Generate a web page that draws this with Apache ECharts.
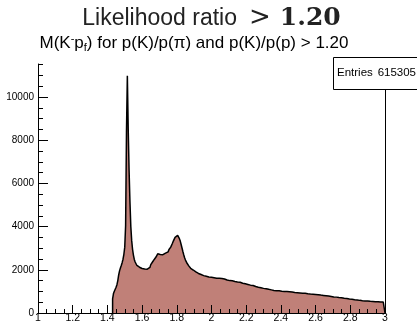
<!DOCTYPE html>
<html>
<head>
<meta charset="utf-8">
<script src="https://cdn.jsdelivr.net/npm/echarts@6/dist/echarts.min.js"></script>
<style>
html, body { margin: 0; padding: 0; background: #fff; }
#chart { width: 417px; height: 323px; }
</style>
</head>
<body>
<div id="chart"></div>
<script>
// Invariant mass histogram: fixed-width bins starting at the K-p threshold region
const binStart = 1.43;      // GeV, lower edge of first filled bin
const binWidth = 0.005;     // GeV
const counts = [
  650, 900, 1010, 1100, 1190, 1310, 1500, 1760, 1950, 2080, 2200, 2330, 2490, 2720,
  3050, 4050, 8400, 10980, 8500, 6600, 5150, 4000, 3350, 2950, 2680, 2480, 2360, 2270, 2200, 2150, 2120, 2090, 2070, 2060,
  2090, 2070, 2040, 2060, 2010, 2030, 1990, 2050, 2110, 2180, 2240, 2300, 2360, 2410, 2480, 2530, 2590, 2660, 2740, 2770,
  2710, 2680, 2640, 2700, 2730, 2760, 2770, 2790, 2800, 2830, 2880, 2940, 2990, 3050, 3120, 3230, 3330, 3420, 3500, 3570,
  3590, 3580, 3520, 3440, 3330, 3170, 3010, 2850, 2700, 2560, 2450, 2360, 2290, 2220, 2170, 2110, 2070, 2030, 1990, 1960,
  1920, 1900, 1870, 1850, 1830, 1810, 1800, 1780, 1760, 1750, 1730, 1720, 1710, 1700, 1690, 1680, 1670, 1665, 1660, 1650,
  1640, 1655, 1630, 1625, 1640, 1610, 1620, 1600, 1605, 1590, 1580, 1595, 1570, 1565, 1575, 1550, 1545, 1530, 1540, 1515,
  1500, 1510, 1485, 1490, 1470, 1475, 1460, 1450, 1465, 1440, 1430, 1420, 1425, 1400, 1395, 1380, 1385, 1360, 1350, 1340,
  1330, 1320, 1325, 1300, 1290, 1280, 1270, 1275, 1250, 1240, 1230, 1215, 1205, 1195, 1190, 1180, 1170, 1160, 1150, 1140,
  1130, 1120, 1125, 1105, 1100, 1095, 1080, 1075, 1070, 1060, 1055, 1045, 1040, 1035, 1030, 1030, 1020, 1025, 1015, 1010,
  1005, 1000, 1005, 995, 990, 985, 990, 980, 975, 980, 970, 965, 970, 955, 960, 950, 955, 945, 940, 945,
  935, 930, 935, 925, 920, 915, 910, 915, 905, 900, 895, 900, 890, 880, 885, 875, 870, 875, 865, 860,
  865, 855, 850, 845, 840, 830, 835, 820, 815, 810, 805, 800, 795, 790, 785, 775, 770, 765, 760, 750,
  745, 740, 730, 735, 725, 720, 715, 710, 700, 705, 695, 690, 685, 680, 675, 670, 660, 655, 650, 645,
  640, 635, 625, 620, 615, 610, 600, 605, 595, 590, 585, 580, 575, 570, 565, 565, 560, 555, 550, 555,
  545, 550, 540, 535, 540, 530, 525, 530, 520, 525, 515, 520, 510, 515, 505, 510, 500, 505, 495, 500
];

// Axis ranges and tick spacing
const xRange = [1, 3];
const xMajor = 0.2;
const xMinorSplit = 4;
const yMajor = 2000;
const yMinor = 500;

// Texts
const entries = 615305;
const cutValue = '1.20';

// Frame top is 5% above the tallest bin
const yMax = Math.max(...counts) * 1.05;

// Step outline of the histogram
const stepPoints = [[binStart, 0]];
counts.forEach((v, i) => {
  const lo = +(binStart + i * binWidth).toFixed(4);
  const hi = +(binStart + (i + 1) * binWidth).toFixed(4);
  stepPoints.push([lo, v], [hi, v]);
});
stepPoints.push([+(binStart + counts.length * binWidth).toFixed(4), 0]);

const black = '#000';
const labelFont = 'Liberation Sans, Arial, sans-serif';

const chart = echarts.init(document.getElementById('chart'), null, { renderer: 'canvas' });

const option = {
  animation: false,
  grid: { left: 38, right: 32, top: 64, bottom: 10, containLabel: false, outerBoundsMode: 'none' },
  xAxis: [
    {
      type: 'value', min: xRange[0], max: xRange[1], interval: xMajor, z: 5,
      axisLine: { lineStyle: { color: black, width: 1 } },
      axisTick: { inside: true, length: 8, lineStyle: { color: black } },
      minorTick: { show: true, splitNumber: xMinorSplit, length: 4, lineStyle: { color: black } },
      splitLine: { show: false },
      axisLabel: { margin: 0, fontSize: 10.5, color: black, fontFamily: labelFont,
                   showMinLabel: true, showMaxLabel: true, hideOverlap: false,
                   formatter: v => String(+v.toFixed(2)) }
    },
    {
      type: 'value', position: 'top', min: xRange[0], max: xRange[1], z: 5,
      axisLine: { show: true, lineStyle: { color: black, width: 1 } },
      axisTick: { show: false }, axisLabel: { show: false }, splitLine: { show: false }
    }
  ],
  yAxis: [
    {
      type: 'value', min: 0, max: yMax, interval: yMajor, z: 5,
      axisLine: { show: true, lineStyle: { color: black, width: 1 } },
      axisTick: { inside: true, length: 10, lineStyle: { color: black } },
      splitLine: { show: false },
      axisLabel: { margin: 4, fontSize: 10, color: black, fontFamily: labelFont,
                   showMaxLabel: false, hideOverlap: false,
                   formatter: v => String(Math.round(v)) }
    },
    {
      type: 'value', position: 'left', min: 0, max: yMax, interval: yMinor, z: 5,
      axisLine: { show: false },
      axisTick: { inside: true, length: 5, lineStyle: { color: black } },
      axisLabel: { show: false }, splitLine: { show: false }
    },
    {
      type: 'value', position: 'right', min: 0, max: yMax, z: 5,
      axisLine: { show: true, lineStyle: { color: black, width: 1 } },
      axisTick: { show: false }, axisLabel: { show: false }, splitLine: { show: false }
    }
  ],
  series: [
    {
      type: 'line',
      xAxisIndex: 0,
      yAxisIndex: 0,
      data: stepPoints,
      showSymbol: false,
      symbol: 'none',
      silent: true,
      z: 2,
      lineStyle: { color: black, width: 1.5 },
      areaStyle: { color: '#c08078', opacity: 1 }
    }
  ],
  graphic: [
    {
      type: 'text', x: 211.5, y: 3.5, z: 10,
      style: {
        text: '{a|Likelihood ratio}{m|>}{b|' + cutValue + '}',
        align: 'center', verticalAlign: 'top',
        rich: {
          a: { fontFamily: 'Liberation Sans', fontSize: 23, fill: '#222', lineHeight: 30 },
          m: { fontFamily: 'DejaVu Sans', fontSize: 26, fill: '#222', lineHeight: 30, padding: [0, 9, 0, 12] },
          b: { fontFamily: 'DejaVu Serif', fontWeight: 'bold', fontSize: 25, fill: '#222', lineHeight: 30 }
        }
      }
    },
    {
      type: 'text', x: 39.5, y: 33.5, z: 10,
      style: {
        text: '{n|M(K}{sup|-}{n|p}{sub|f}{n|) for p(K)/p(\u03c0) and p(K)/p(p) > ' + cutValue + '}',
        align: 'left', verticalAlign: 'top',
        rich: {
          n: { fontFamily: 'Liberation Sans', fontSize: 17, fill: '#000', lineHeight: 20 },
          sup: { fontFamily: 'Liberation Sans', fontSize: 11, fill: '#000', lineHeight: 11, verticalAlign: 'top' },
          sub: { fontFamily: 'Liberation Sans', fontSize: 11, fill: '#000', lineHeight: 5, verticalAlign: 'bottom' }
        }
      }
    },
    {
      type: 'rect', z: 10,
      shape: { x: 333.5, y: 57.5, width: 100, height: 32 },
      style: { fill: '#fff', stroke: black, lineWidth: 1 }
    },
    {
      type: 'text', x: 337, y: 73, z: 11,
      style: { text: 'Entries', fontFamily: 'Liberation Sans', fontSize: 11.5, fill: black,
               align: 'left', verticalAlign: 'middle' }
    },
    {
      type: 'text', x: 416, y: 73, z: 11,
      style: { text: String(entries), fontFamily: 'Liberation Sans', fontSize: 11.5, fill: black,
               align: 'right', verticalAlign: 'middle' }
    }
  ]
};

chart.setOption(option);
</script>
</body>
</html>
